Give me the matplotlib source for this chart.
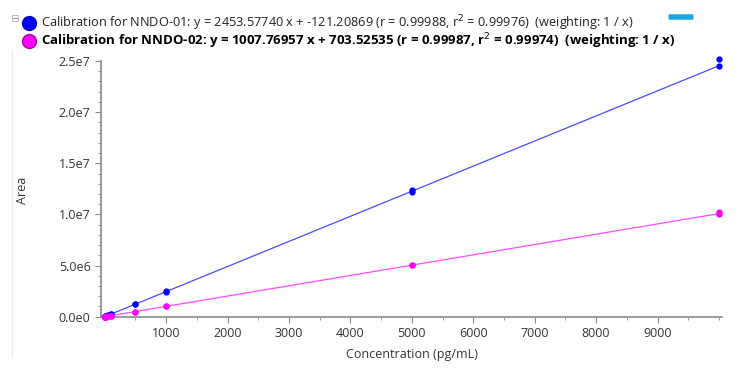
import matplotlib
matplotlib.use("Agg")
import matplotlib.pyplot as plt
from matplotlib.ticker import MultipleLocator, FuncFormatter
from matplotlib.lines import Line2D
from matplotlib.patches import Rectangle, FancyBboxPatch
import numpy as np

# ---- data ----
conc_01 = [1, 1, 5, 5, 10, 10, 50, 50, 100, 100, 500, 500, 1000, 1000, 5000, 5000, 10000, 10000]
area_01 = [2.4e3, 2.5e3, 1.22e4, 1.25e4, 2.44e4, 2.46e4, 1.22e5, 1.24e5, 2.44e5, 2.47e5,
           1.22e6, 1.24e6, 2.44e6, 2.47e6, 1.216e7, 1.234e7, 2.45e7, 2.52e7]
conc_02 = [1, 1, 5, 5, 10, 10, 50, 50, 100, 100, 500, 500, 1000, 1000, 5000, 5000, 10000, 10000]
area_02 = [1.7e3, 1.7e3, 5.8e3, 5.9e3, 1.08e4, 1.09e4, 5.1e4, 5.2e4, 1.01e5, 1.02e5,
           5.0e5, 5.05e5, 1.0e6, 1.01e6, 5.02e6, 5.05e6, 1.006e7, 1.02e7]
slope_01, icpt_01 = 2453.57740, -121.20869
slope_02, icpt_02 = 1007.76957, 703.52535
label_01 = "Calibration for NNDO-01: y = 2453.57740 x + -121.20869 (r = 0.99988, r$^2$ = 0.99976)  (weighting: 1 / x)"
label_02 = "Calibration for NNDO-02: y = 1007.76957 x + 703.52535 (r = 0.99987, r$^2$ = 0.99974)  (weighting: 1 / x)"
xlabel = "Concentration (pg/mL)"
ylabel = "Area"
xticks = [1000, 2000, 3000, 4000, 5000, 6000, 7000, 8000, 9000]
yticks = [0, 5e6, 1e7, 1.5e7, 2e7, 2.5e7]

plt.rcParams['font.family'] = ['Open Sans', 'DejaVu Sans']
txt = '#333333'
gray = '#8a8a8a'

fig = plt.figure(figsize=(7.5, 3.68), dpi=100)
ax = fig.add_axes([101/750, 1-316.7/368, (722-101)/750, (316.7-61)/368])

xl = np.array([1, 10000])
ax.plot(xl, slope_01*xl + icpt_01, color='#4a4aff', lw=0.9, zorder=2)
ax.plot(xl, slope_02*xl + icpt_02, color='#ff4aff', lw=0.9, zorder=2)
ax.plot(conc_01, area_01, 'o', color='#0000ff', ms=4.5, mec='none', zorder=3, clip_on=False)
ax.plot(conc_02, area_02, 'o', color='#ff00ff', ms=4.5, mec='none', zorder=3, clip_on=False)

ax.set_xlim(-60, 10050)
ax.set_ylim(0, 2.5e7)
ax.set_xticks(xticks)
ax.xaxis.set_minor_locator(MultipleLocator(500))
ax.set_yticks(yticks)
ax.yaxis.set_minor_locator(MultipleLocator(1e6))
ax.yaxis.set_major_formatter(FuncFormatter(lambda v, p: "%.1fe%d" % (v/10**int(np.floor(np.log10(v))), int(np.floor(np.log10(v)))) if v > 0 else "0.0e0"))

for s in ['top', 'right']:
    ax.spines[s].set_visible(False)
for s in ['left', 'bottom']:
    ax.spines[s].set_color(gray)
    ax.spines[s].set_linewidth(1.2)
ax.tick_params(which='major', length=4, color=gray, labelsize=9, labelcolor=txt)
ax.tick_params(which='minor', length=2, color=gray)
ax.set_xlabel(xlabel, fontsize=9, color=txt, labelpad=6)
ax.set_ylabel(ylabel, fontsize=9, color=txt, va='center')
ax.yaxis.set_label_coords(23/750, 1-190/368, transform=fig.transFigure)

# faint panel line on left
fig.add_artist(Line2D([12/750, 12/750], [1-50/368, 1-357/368], color='#ececec', lw=0.8, transform=fig.transFigure))

# header (legend-like)
fig.add_artist(Rectangle((12/750, 1-21/368), 6/750, 6/368, transform=fig.transFigure,
                         fill=False, ec='#b0b0b0', lw=0.6))
fig.add_artist(Line2D([13.5/750, 16.5/750], [1-18/368, 1-18/368], color='#808080', lw=0.6, transform=fig.transFigure))
fig.add_artist(Line2D([29/750], [1-23/368], marker='o', color='#0000ff', mec='#0000c0', ms=10, ls='none', transform=fig.transFigure))
fig.add_artist(Line2D([29/750], [1-41/368], marker='o', color='#ff00ff', mec='#b000b0', ms=10, ls='none', transform=fig.transFigure))
fig.text(41/750, 1-23/368, label_01, fontsize=9.2, color='#222222', va='center', ha='left',
         family=['Liberation Sans Narrow', 'Open Sans', 'DejaVu Sans'])
fig.text(41/750, 1-41/368, label_02, fontsize=9.5, color='black', va='center', ha='left', fontweight='bold',
         family=['Open Sans', 'DejaVu Sans'])
fig.add_artist(FancyBboxPatch((670/750, 1-19/368), 22/750, 4/368, boxstyle='round,pad=0.002',
                              transform=fig.transFigure, fc='#1aa7e0', ec='none'))

fig.savefig('out.png', dpi=100)
